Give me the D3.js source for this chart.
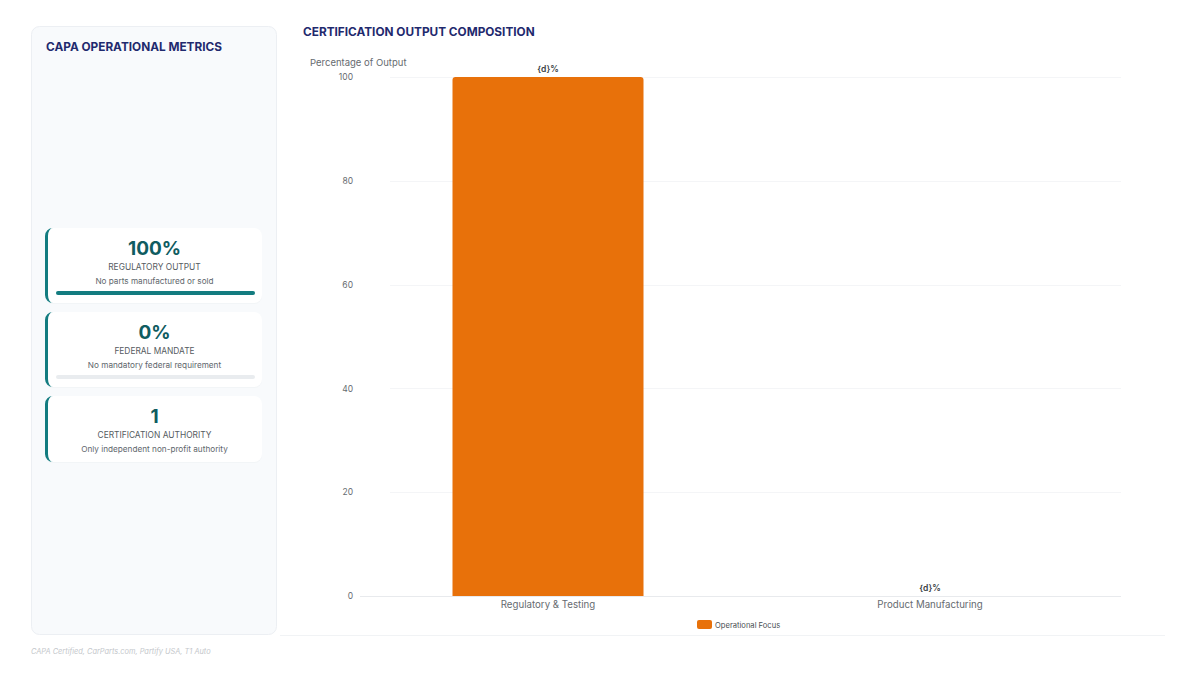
<!DOCTYPE html>
<html>
<head>
<meta charset="utf-8">
<script src="https://cdn.jsdelivr.net/npm/d3@7/dist/d3.min.js"></script>
<style>
  html, body { margin: 0; padding: 0; background: #ffffff; }
  body { width: 1200px; height: 675px; overflow: hidden; font-family: Inter, "Noto Sans", sans-serif; }
</style>
</head>
<body>
<div id="chart"></div>
<script>
// chart data
const categories = ["Regulatory & Testing", "Product Manufacturing"];
const values = [100, 0];
const valueLabels = ["{d}%", "{d}%"];
const yTicks = [0, 20, 40, 60, 80, 100];
const seriesName = "Operational Focus";

// side panel metrics
const metricValues = ["100%", "0%", "1"];
const metricLabels = ["REGULATORY OUTPUT", "FEDERAL MANDATE", "CERTIFICATION AUTHORITY"];
const metricNotes = ["No parts manufactured or sold", "No mandatory federal requirement", "Only independent non-profit authority"];
const metricProgress = [100, 0, null];

const orange = "#e8710a";
const teal = "#137c80";
const navy = "#1f2a6e";

const svg = d3.select("#chart").append("svg")
    .attr("width", 1200)
    .attr("height", 675)
    .style("font-family", "Inter, 'Noto Sans', sans-serif");

// ---- left panel
svg.append("rect")
    .attr("x", 31.5).attr("y", 26.5).attr("width", 245).attr("height", 608)
    .attr("rx", 8)
    .attr("fill", "#f8fafc")
    .attr("stroke", "#eceff3");

svg.append("text")
    .attr("x", 46).attr("y", 51)
    .attr("fill", navy)
    .attr("font-size", 11.8).attr("font-weight", 700)
    .text("CAPA OPERATIONAL METRICS");

const cardTops = [228, 312, 396];
const cardHeights = [75, 75, 66];
const cardX = 45, cardW = 217;
const cx = cardX + cardW / 2 + 1;

// left accent like a css border-left on a rounded box
function leftBorder(h) {
    const r = 8, b = 3;
    return `M${cardX + r},0A${r},${r} 0 0 0 ${cardX},${r}V${h - r}A${r},${r} 0 0 0 ${cardX + r},${h}` +
        `A${r - b},${r} 0 0 1 ${cardX + b},${h - r}V${r}A${r - b},${r} 0 0 1 ${cardX + r},0Z`;
}

metricValues.forEach((v, i) => {
    const g = svg.append("g").attr("transform", `translate(0,${cardTops[i]})`);
    g.append("rect")
        .attr("x", cardX).attr("y", 1).attr("width", cardW).attr("height", cardHeights[i])
        .attr("rx", 8).attr("fill", "#eef1f4").attr("opacity", 0.6);
    g.append("rect")
        .attr("x", cardX).attr("y", 0).attr("width", cardW).attr("height", cardHeights[i])
        .attr("rx", 8).attr("fill", "#ffffff");
    g.append("path")
        .attr("d", leftBorder(cardHeights[i]))
        .attr("fill", teal);
    g.append("text")
        .attr("x", cx).attr("y", 27)
        .attr("text-anchor", "middle")
        .attr("fill", "#0f5c61")
        .attr("font-size", 19).attr("font-weight", 700)
        .text(v);
    g.append("text")
        .attr("x", cx).attr("y", 42)
        .attr("text-anchor", "middle")
        .attr("fill", "#555b61")
        .attr("font-size", 8.4)
        .text(metricLabels[i]);
    g.append("text")
        .attr("x", cx).attr("y", 56)
        .attr("text-anchor", "middle")
        .attr("fill", "#60666c")
        .attr("font-size", 8.2)
        .text(metricNotes[i]);
    if (metricProgress[i] !== null) {
        const px = d3.scaleLinear().domain([0, 100]).range([0, 199]);
        g.append("rect")
            .attr("x", 56).attr("y", 63).attr("width", px(100)).attr("height", 4)
            .attr("rx", 2).attr("fill", "#e9ecef");
        g.append("rect")
            .attr("x", 56).attr("y", 63).attr("width", px(metricProgress[i])).attr("height", 4)
            .attr("rx", 2).attr("fill", teal);
    }
});

svg.append("text")
    .attr("x", 31).attr("y", 654)
    .attr("fill", "#c4c7cb")
    .attr("font-size", 7.4).attr("font-style", "italic")
    .text("CAPA Certified, CarParts.com, Partify USA, T1 Auto");

// ---- chart
svg.append("line")
    .attr("x1", 280).attr("x2", 1165).attr("y1", 635.5).attr("y2", 635.5)
    .attr("stroke", "#f1f3f5");

svg.append("text")
    .attr("x", 303).attr("y", 36)
    .attr("fill", navy)
    .attr("font-size", 11.8).attr("font-weight", 700)
    .text("CERTIFICATION OUTPUT COMPOSITION");

svg.append("text")
    .attr("x", 310).attr("y", 66)
    .attr("fill", "#666b70")
    .attr("font-size", 9.5)
    .text("Percentage of Output");

const x = d3.scaleBand()
    .domain(categories)
    .range([357, 1121])
    .paddingInner(0.5)
    .paddingOuter(0.25);

const y = d3.scaleLinear()
    .domain([0, 100])
    .range([596, 77]);

const grid = svg.append("g");
grid.selectAll("line")
    .data(yTicks)
    .join("line")
    .attr("x1", d => d === 0 ? 360 : 390)
    .attr("x2", 1121)
    .attr("y1", d => Math.round(y(d)) + 0.5)
    .attr("y2", d => Math.round(y(d)) + 0.5)
    .attr("stroke", d => d === 0 ? "#e8eaed" : "#f4f5f7");

const yAxis = svg.append("g")
    .attr("transform", "translate(353,0)")
    .call(d3.axisLeft(y).tickValues(yTicks).tickSize(0).tickPadding(0));
yAxis.select(".domain").remove();
yAxis.selectAll("text")
    .attr("fill", "#666b70")
    .attr("font-size", 8.5)
    .attr("font-family", "Inter, 'Noto Sans', sans-serif");

const xAxis = svg.append("g")
    .attr("transform", `translate(0,${y(0)})`)
    .call(d3.axisBottom(x).tickSize(0).tickPadding(5));
xAxis.select(".domain").remove();
xAxis.selectAll("text")
    .attr("fill", "#666b70")
    .attr("font-size", 9.7)
    .attr("font-family", "Inter, 'Noto Sans', sans-serif");

const data = categories.map((c, i) => ({ c, v: values[i], label: valueLabels[i] }));

svg.append("g").selectAll("path")
    .data(data)
    .join("path")
    .attr("fill", orange)
    .attr("d", d => {
        const x0 = x(d.c), w = x.bandwidth();
        const top = y(d.v), bottom = y(0);
        const h = bottom - top;
        if (h <= 0) return "";
        const r = Math.min(3, h);
        return `M${x0},${bottom}V${top + r}Q${x0},${top} ${x0 + r},${top}H${x0 + w - r}Q${x0 + w},${top} ${x0 + w},${top + r}V${bottom}Z`;
    });

svg.append("g").selectAll("text")
    .data(data)
    .join("text")
    .attr("x", d => x(d.c) + x.bandwidth() / 2)
    .attr("y", d => y(d.v) - 5)
    .attr("text-anchor", "middle")
    .attr("fill", "#3a3f44")
    .attr("font-size", 8.5).attr("font-weight", 600)
    .text(d => d.label);

const legend = svg.append("g").attr("transform", "translate(697,620)");
legend.append("rect")
    .attr("width", 15).attr("height", 9).attr("rx", 2)
    .attr("fill", orange);
legend.append("text")
    .attr("x", 18).attr("y", 7.5)
    .attr("fill", "#4a4f54")
    .attr("font-size", 7.6)
    .text(seriesName);
</script>
</body>
</html>
